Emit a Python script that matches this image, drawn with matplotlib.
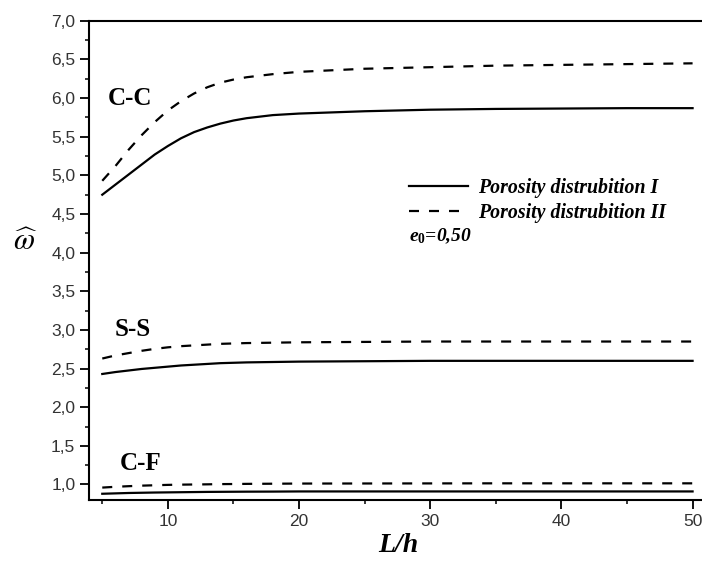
import matplotlib
matplotlib.use('Agg')
from matplotlib import pyplot as plt
from matplotlib.ticker import MultipleLocator, FuncFormatter

plt.rcParams['mathtext.fontset'] = 'custom'
plt.rcParams['mathtext.it'] = 'Liberation Serif:italic:bold'
plt.rcParams['mathtext.rm'] = 'Liberation Serif:bold'

# L/h values
lh = [5, 6, 7, 8, 9, 10, 11, 12, 13, 14, 15, 16, 18, 20, 25, 30, 35, 40, 45, 50]

# clamped-clamped
cc_I = [4.75, 4.88, 5.01, 5.14, 5.27, 5.38, 5.48, 5.56, 5.62, 5.67, 5.71, 5.74, 5.78, 5.80, 5.83, 5.85, 5.86, 5.865, 5.87, 5.87]
cc_II = [4.93, 5.12, 5.33, 5.52, 5.69, 5.84, 5.96, 6.06, 6.14, 6.20, 6.24, 6.27, 6.31, 6.34, 6.38, 6.40, 6.42, 6.43, 6.44, 6.45]
# simply supported
ss_I = [2.43, 2.455, 2.475, 2.495, 2.51, 2.525, 2.54, 2.55, 2.56, 2.57, 2.575, 2.58, 2.585, 2.59, 2.595, 2.60, 2.60, 2.60, 2.60, 2.60]
ss_II = [2.63, 2.67, 2.70, 2.73, 2.755, 2.775, 2.79, 2.80, 2.81, 2.82, 2.825, 2.83, 2.835, 2.84, 2.845, 2.85, 2.85, 2.85, 2.85, 2.85]
# clamped-free
cf_I = [0.88, 0.885, 0.89, 0.893, 0.896, 0.898, 0.90, 0.902, 0.904, 0.905, 0.906, 0.907, 0.908, 0.91, 0.91, 0.91, 0.91, 0.91, 0.91, 0.91]
cf_II = [0.96, 0.97, 0.978, 0.985, 0.99, 0.995, 0.998, 1.0, 1.002, 1.005, 1.006, 1.008, 1.01, 1.012, 1.013, 1.014, 1.015, 1.015, 1.015, 1.015]

series_labels = ['Porosity distrubition I', 'Porosity distrubition II']

fig = plt.figure(figsize=(7.02, 5.63), dpi=100)
ax = fig.add_axes([0.127, 0.112, 0.882, 0.851])

dash = (0, (4.5, 4.5))
l1, = ax.plot(lh, cc_I, color='black', lw=1.6)
l2, = ax.plot(lh, cc_II, color='black', lw=1.6, linestyle=dash)
ax.plot(lh, ss_I, color='black', lw=1.6)
ax.plot(lh, ss_II, color='black', lw=1.6, linestyle=dash)
ax.plot(lh, cf_I, color='black', lw=1.6)
ax.plot(lh, cf_II, color='black', lw=1.6, linestyle=dash)

ax.set_xlim(4.0, 51.2)
ax.set_ylim(0.8, 7.0)
ax.xaxis.set_major_locator(MultipleLocator(10))
ax.xaxis.set_minor_locator(MultipleLocator(5))
ax.yaxis.set_major_locator(MultipleLocator(0.5))
ax.yaxis.set_minor_locator(MultipleLocator(0.25))
ax.yaxis.set_major_formatter(FuncFormatter(lambda v, p: ('%.1f' % v).replace('.', ',')))

ax.tick_params(which='major', direction='out', length=6.5, width=1.3,
               labelsize=12.5, labelcolor='#333333', labelfontfamily='Liberation Sans')
ax.tick_params(which='minor', direction='out', length=3, width=1.1)
for s in ax.spines.values():
    s.set_linewidth(1.5)

serif_b = dict(family='Liberation Serif', weight='bold', fontsize=18)
ax.text(7.1, 6.0, 'C-C', ha='center', va='center', **serif_b)
ax.text(7.3, 3.0, 'S-S', ha='center', va='center', **serif_b)
ax.text(7.9, 1.27, 'C-F', ha='center', va='center', **serif_b)

leg = ax.legend([l1, l2], series_labels, loc='upper left', bbox_to_anchor=(0.487, 0.71),
                frameon=False, handlelength=3.0, handletextpad=0.5, labelspacing=0.28,
                prop=dict(family='Liberation Serif', weight='bold', style='italic', size=14.3))
ax.text(0.516, 0.551, r'$e_{\mathit{0}}$=0,50', transform=ax.transAxes, ha='left', va='center',
        family='Liberation Serif', weight='bold', style='italic', fontsize=14)

ax.set_xlabel('L/h', family='Liberation Serif', weight='bold', style='italic', fontsize=20, labelpad=3)
fig.text(0.036, 0.571, r'$\widehat{\omega}$', fontsize=22, ha='center', va='center',
         math_fontfamily='stix')

fig.savefig('out.png', dpi=100)
